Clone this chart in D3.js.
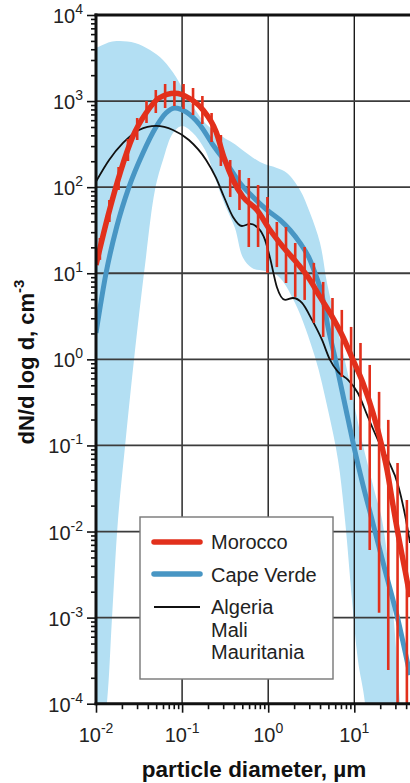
<!DOCTYPE html>
<html><head><meta charset="utf-8">
<script src="https://cdn.jsdelivr.net/npm/d3@7"></script>
<style>body{margin:0;background:#fff}svg{display:block;font-family:"Liberation Sans",Arial,sans-serif}</style>
</head><body><svg id="c" width="410" height="783"></svg>
<script>
// ---------- data (diameter in µm, dN/dlogd in cm^-3) ----------
const xTickValues = [0.01, 0.1, 1, 10];
const xTickExponents = ["-2", "-1", "0", "1"];
const yTickValues = [1e-4, 1e-3, 1e-2, 1e-1, 1, 10, 100, 1000, 10000];
const yTickExponents = ["-4", "-3", "-2", "-1", "0", "1", "2", "3", "4"];

const seriesNames = ["Morocco", "Cape Verde", "Algeria", "Mali", "Mauritania"];

const moroccoD = [0.0100,0.0137,0.0195,0.0267,0.0381,0.054,0.0827,0.120,0.175,0.248,0.307,0.390,0.510,0.741,1.05,1.49,2.16,3.06,4.00,5.22,7.39,9.66,12.6,16.5,21.0,24.0,28.1,34.0,38.8,44.4];
const moroccoV = [12.5,45.4,158,386,727,1086,1233,1086,788,440,220,121,76.9,54.3,31.8,20.2,13.2,8.36,5.31,3.46,1.82,0.984,0.532,0.238,0.0961,0.052,0.0204,0.0070,0.00358,0.00174];

const errD  = [0.0111,0.0143,0.0183,0.0235,0.0301,0.0386,0.0495,0.0635,0.0814,0.104,0.134,0.172,0.220,0.282,0.362,0.464,0.595,0.763,0.979,1.26,1.61,2.06,2.65,3.39,4.35,5.58,7.16,9.18,11.8,15.1,19.4,24.8,31.8,40.8];
const errHi = [25.7,71.0,172,363,636,1003,1345,1580,1712,1580,1420,1146,727,404,207,158,128,106,76.9,39.4,34.5,22.5,20.2,13.2,7.93,5.16,3.75,2.38,1.55,0.861,0.419,0.198,0.0627,0.0233];
const errLo = [14.3,39.4,92.7,202,353,557,727,832,877,810,690,542,335,176,76.9,54.3,20.2,20.2,10.1,11.8,7.71,5.31,4.90,2.65,1.82,0.986,0.625,0.338,0.0887,0.00612,0.00114,0.000247,0.00001,0.00001];

const capeVerdeD = [0.0100,0.0131,0.0175,0.0242,0.0351,0.0498,0.065,0.0827,0.111,0.161,0.229,0.332,0.470,0.666,0.969,1.37,1.79,2.34,3.06,3.49,4.22,4.95,5.97,7.80,9.92,12.6,16.1,22.7,32.2,44.4];
const capeVerdeV = [2.03,10.1,35.4,101,250,501,727,832,747,528,309,186,112,76.9,54.3,41.6,31.8,22.5,14.3,10.1,5.60,2.38,1.04,0.296,0.0961,0.0348,0.0136,0.00358,0.000942,0.000216];

const algeriaD = [0.0100,0.0142,0.0206,0.0316,0.0498,0.0784,0.120,0.190,0.248,0.307,0.390,0.496,0.615,0.762,0.918,1.05,1.26,1.57,1.94,2.47,3.23,4.22,5.22,6.47,8.45,11.0,14.4,18.8,24.6,32.2,38.8,44.4];
const algeriaV = [116,207,326,462,514,462,353,207,128,76.9,45.1,35.4,37.4,33.6,24.4,15.1,6.93,4.90,5.16,4.52,2.87,1.68,0.986,0.714,0.577,0.407,0.214,0.116,0.0679,0.0348,0.0156,0.00737];

const bandUpperD = [0.0100,0.0146,0.0190,0.0284,0.0424,0.0600,0.0850,0.120,0.190,0.299,0.390,0.804,1.26,1.65,2.34,3.06,4.00,4.82,6.30,8.23,10.7,12.6,17.4,21.0,27.4,34.0,38.8];
const bandUpperV = [4140,4860,4990,4730,3920,3000,1905,1030,542,383,326,196,167,146,92.8,50.1,22.5,7.71,2.38,0.754,0.214,0.101,0.0281,0.0136,0.00161,0.000102,0.0000222];
const bandLowerD = [0.0100,0.0134,0.0153,0.0180,0.0217,0.0276,0.0371,0.0484,0.0600,0.0784,0.0998,0.130,0.185,0.241,0.315,0.411,0.510,0.649,0.918,1.30,2.05,3.49,4.95,6.47,7.80,9.40,11.0,13.3,14.4];
const bandLowerV = [0.00001,0.000102,0.000942,0.0136,0.0961,0.984,12.5,92.7,207,426,514,438,270,128,62.1,33.6,15.1,11.5,10.6,9.31,4.52,1.07,0.258,0.0679,0.0136,0.00161,0.000323,0.000102,0.0000222];

// ---------- layout ----------
const W = 410, H = 783;
const L = 96, T = 15, B = 703.7;
const x = d3.scaleLog().domain([0.01, 10]).range([L, 354.3]);
const y = d3.scaleLog().domain([1e-4, 1e4]).range([B, T]);

const RED = "#e2301c", BLUE = "#4896c4", BAND = "#b3dff3";

const svg = d3.select("#c");
svg.append("defs").append("clipPath").attr("id", "clip")
  .append("rect").attr("x", L).attr("y", T).attr("width", W - L).attr("height", B - T);

const plot = svg.append("g").attr("clip-path", "url(#clip)");

// band
const bandPts = bandUpperD.map((d, i) => [x(d), y(bandUpperV[i])])
  .concat(bandLowerD.map((d, i) => [x(d), y(bandLowerV[i])]).reverse());
plot.append("path").attr("d", d3.line().curve(d3.curveCatmullRom)(bandPts) + "Z")
  .attr("fill", BAND);

// grid
plot.append("g").selectAll("line").data(xTickValues.slice(1)).join("line")
  .attr("x1", d => x(d)).attr("x2", d => x(d)).attr("y1", T).attr("y2", B)
  .attr("stroke", "#1a1a1a").attr("stroke-width", 1.4);
plot.append("g").selectAll("line").data(yTickValues.slice(1, -1)).join("line")
  .attr("x1", L).attr("x2", W).attr("y1", d => y(d)).attr("y2", d => y(d))
  .attr("stroke", "#3c3c3c").attr("stroke-width", 1.8);

const line = d3.line().curve(d3.curveMonotoneX);

// Cape Verde
plot.append("path").attr("d", line(capeVerdeD.map((d, i) => [x(d), y(capeVerdeV[i])])))
  .attr("fill", "none").attr("stroke", BLUE).attr("stroke-width", 5).attr("stroke-linejoin", "round");
// Algeria / Mali / Mauritania
plot.append("path").attr("d", line(algeriaD.map((d, i) => [x(d), y(algeriaV[i])])))
  .attr("fill", "none").attr("stroke", "#111").attr("stroke-width", 1.8).attr("stroke-linejoin", "round");
// Morocco error bars
plot.append("g").selectAll("line").data(errD).join("line")
  .attr("x1", d => x(d)).attr("x2", d => x(d))
  .attr("y1", (d, i) => y(errHi[i])).attr("y2", (d, i) => y(errLo[i]))
  .attr("stroke", RED).attr("stroke-width", 2.6);
// Morocco
plot.append("path").attr("d", line(moroccoD.map((d, i) => [x(d), y(moroccoV[i])])))
  .attr("fill", "none").attr("stroke", RED).attr("stroke-width", 5.5).attr("stroke-linejoin", "round");

// ---------- axes ----------
const minorX = [], minorY = [];
for (let e = -2; e <= 1; e++) for (let k = 2; k <= 9; k++) { const v = k * Math.pow(10, e); if (x(v) <= W) minorX.push(v); }
for (let e = -4; e <= 3; e++) for (let k = 2; k <= 9; k++) minorY.push(k * Math.pow(10, e));

function styleAxis(g) { g.select(".domain").remove(); g.selectAll("line").attr("stroke", "#111").attr("stroke-width", 1.6); g.selectAll("text").remove(); }

svg.append("g").attr("transform", `translate(${L},0)`)
  .call(d3.axisLeft(y).tickValues(yTickValues).tickSize(9).tickSizeOuter(0)).call(styleAxis);
svg.append("g").attr("transform", `translate(${L},0)`)
  .call(d3.axisLeft(y).tickValues(minorY).tickSize(5).tickSizeOuter(0)).call(styleAxis);
svg.append("g").attr("transform", `translate(0,${B})`)
  .call(d3.axisBottom(x).tickValues(xTickValues).tickSize(9).tickSizeOuter(0)).call(styleAxis);
svg.append("g").attr("transform", `translate(0,${B})`)
  .call(d3.axisBottom(x).tickValues(minorX).tickSize(5.5).tickSizeOuter(0)).call(styleAxis);

// frame lines
svg.append("line").attr("x1", L).attr("x2", L).attr("y1", T - 1.5).attr("y2", B + 1.5).attr("stroke", "#111").attr("stroke-width", 3);
svg.append("line").attr("x1", L - 1.5).attr("x2", W).attr("y1", B).attr("y2", B).attr("stroke", "#111").attr("stroke-width", 3);
svg.append("line").attr("x1", L - 1.5).attr("x2", W).attr("y1", T).attr("y2", T).attr("stroke", "#111").attr("stroke-width", 3);

// tick labels
const yl = svg.append("g").attr("font-size", 20).attr("fill", "#222");
yTickValues.forEach((v, i) => {
  const t = yl.append("text").attr("x", 83).attr("y", y(v) + 8).attr("text-anchor", "end");
  t.append("tspan").text("10");
  t.append("tspan").attr("font-size", 14).attr("dy", -9).text(yTickExponents[i]);
});
const xl = svg.append("g").attr("font-size", 20).attr("fill", "#222");
xTickValues.forEach((v, i) => {
  const t = xl.append("text").attr("x", x(v)).attr("y", 742).attr("text-anchor", "middle");
  t.append("tspan").text("10");
  t.append("tspan").attr("font-size", 14).attr("dy", -9).text(xTickExponents[i]);
});

// axis titles
svg.append("text").attr("x", 254).attr("y", 777).attr("text-anchor", "middle")
  .attr("font-size", 22.5).attr("font-weight", "bold").attr("fill", "#111").text("particle diameter, µm");
const yt = svg.append("text").attr("transform", "translate(34,362) rotate(-90)").attr("text-anchor", "middle")
  .attr("font-size", 22).attr("font-weight", "bold").attr("fill", "#111");
yt.append("tspan").text("dN/d log d, cm");
yt.append("tspan").attr("font-size", 15).attr("dy", -10).text("-3");

// ---------- legend ----------
const lg = svg.append("g");
lg.append("rect").attr("x", 140).attr("y", 517).attr("width", 193).attr("height", 162)
  .attr("fill", "#fff").attr("stroke", "#777").attr("stroke-width", 1.4);
const legendItems = [
  { color: RED, w: 5.5, y: 542 },
  { color: BLUE, w: 5.5, y: 574 },
  { color: "#111", w: 1.8, y: 607 }
];
lg.selectAll("line").data(legendItems).join("line")
  .attr("x1", 154).attr("x2", 200).attr("y1", d => d.y).attr("y2", d => d.y)
  .attr("stroke", d => d.color).attr("stroke-width", d => d.w).attr("stroke-linecap", d => d.w > 3 ? "round" : "butt");
const labelY = [549, 582, 614, 637, 659];
lg.selectAll("text").data(seriesNames).join("text")
  .attr("x", 211).attr("y", (d, i) => labelY[i]).attr("font-size", 20).attr("fill", "#222").text(d => d);
</script></body></html>
